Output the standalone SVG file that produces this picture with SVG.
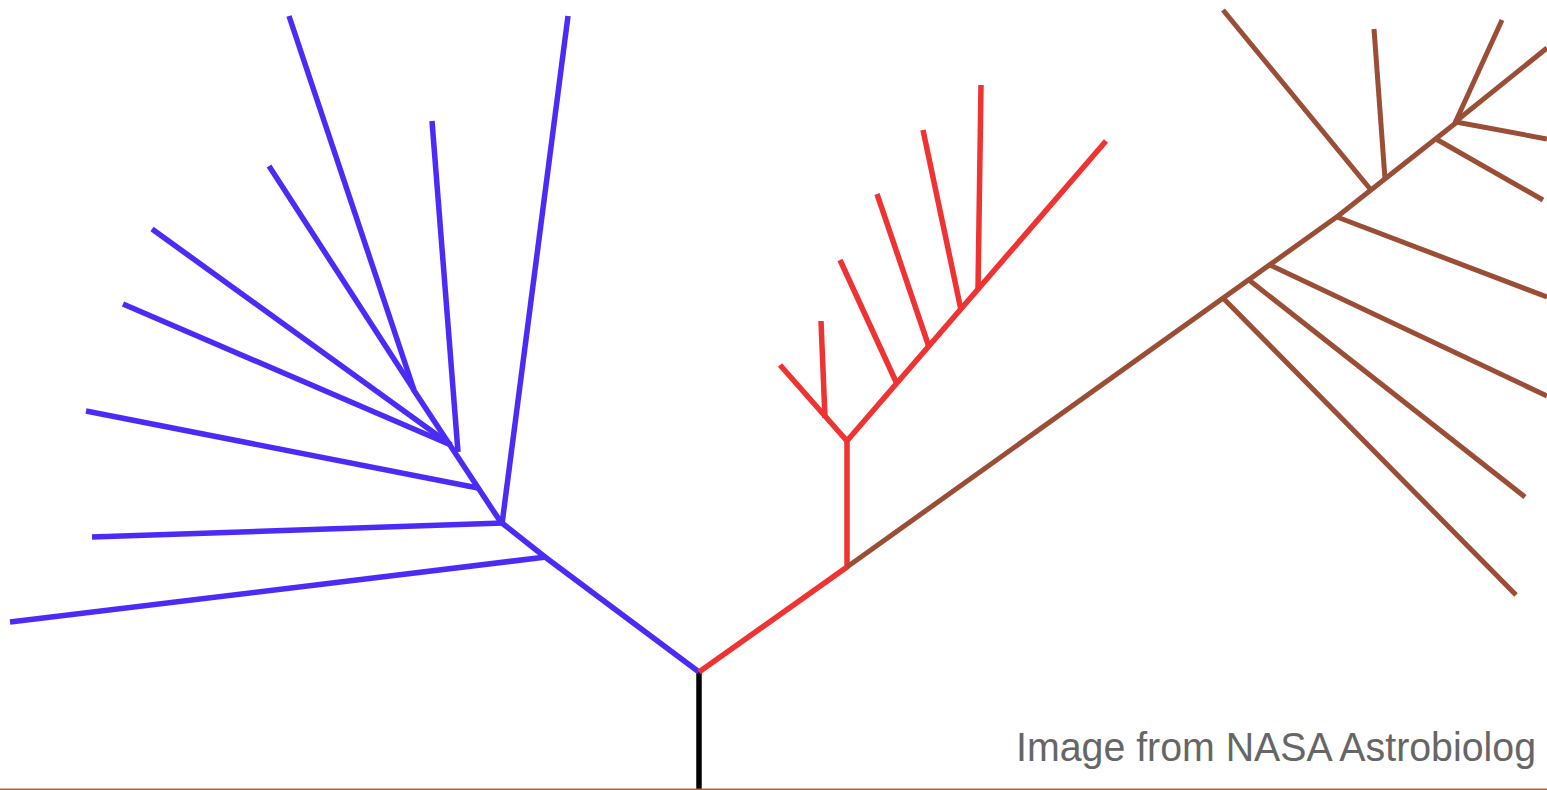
<svg xmlns="http://www.w3.org/2000/svg" width="1547" height="790" viewBox="0 0 1547 790">
  <style>
    .b { stroke: #4b2cf6; stroke-width: 5.5; fill: none; stroke-linecap: butt; stroke-linejoin: round; }
    .r { stroke: #ef3232; stroke-width: 5.5; fill: none; stroke-linecap: butt; stroke-linejoin: round; }
    .n { stroke: #9b4e36; stroke-width: 5; fill: none; stroke-linecap: butt; stroke-linejoin: round; }
    .k { stroke: #000000; stroke-width: 5.5; fill: none; }
    .cap { font-family: "Liberation Sans", Arial, sans-serif; font-size: 40px; fill: #666666; }
  </style>
  <rect x="0" y="0" width="1547" height="790" fill="#ffffff"/>
  <g id="connectors">
    <g id="root">
      <line class="k" x1="699" y1="672" x2="699" y2="790"/>
    </g>
    <g id="clade-blue">
      <polyline class="b" points="699,672 545,557 502,523"/>
      <line class="b" x1="546" y1="557" x2="10" y2="622"/>
      <line class="b" x1="503" y1="523" x2="92" y2="537"/>
      <line class="b" x1="502" y1="524" x2="568" y2="16"/>
      <line class="b" x1="502" y1="524" x2="413" y2="389"/>
      <line class="b" x1="478" y1="488" x2="86" y2="411"/>
      <line class="b" x1="458" y1="452" x2="432" y2="121"/>
      <line class="b" x1="451" y1="445" x2="123" y2="304"/>
      <line class="b" x1="451" y1="445" x2="152" y2="229"/>
      <line class="b" x1="414" y1="390" x2="289" y2="16"/>
      <line class="b" x1="414" y1="390" x2="269" y2="166"/>
    </g>
    <g id="clade-red">
      <polyline class="r" points="699,672 847,567 847,441"/>
      <line class="r" x1="847" y1="441" x2="780" y2="365"/>
      <line class="r" x1="825" y1="418" x2="821" y2="321"/>
      <line class="r" x1="846" y1="442" x2="1106" y2="141"/>
      <line class="r" x1="897" y1="384" x2="840" y2="260"/>
      <line class="r" x1="929" y1="347" x2="877" y2="194"/>
      <line class="r" x1="961" y1="310" x2="923" y2="130"/>
      <line class="r" x1="978" y1="289" x2="981" y2="85"/>
    </g>
    <g id="clade-brown">
      <polyline class="n" points="847,567 1338,216 1457,122"/>
      <line class="n" x1="1223" y1="298" x2="1516" y2="595"/>
      <line class="n" x1="1249" y1="280" x2="1525" y2="497"/>
      <line class="n" x1="1270" y1="265" x2="1547" y2="396"/>
      <line class="n" x1="1337" y1="217" x2="1547" y2="297"/>
      <line class="n" x1="1371" y1="190" x2="1223" y2="10"/>
      <line class="n" x1="1385" y1="179" x2="1374" y2="29"/>
      <line class="n" x1="1436" y1="139" x2="1543" y2="200"/>
      <line class="n" x1="1455" y1="123" x2="1502" y2="20"/>
      <line class="n" x1="1455" y1="122" x2="1547" y2="48"/>
      <line class="n" x1="1456" y1="122" x2="1547" y2="139"/>
    </g>
  </g>
  <g id="caption">
    <text class="cap" x="1016" y="761" textLength="520" lengthAdjust="spacingAndGlyphs">Image from NASA Astrobiolog</text>
  </g>
  <rect id="bottom-rule" x="0" y="788.5" width="1547" height="1.5" fill="#bf5f3f"/>
</svg>
